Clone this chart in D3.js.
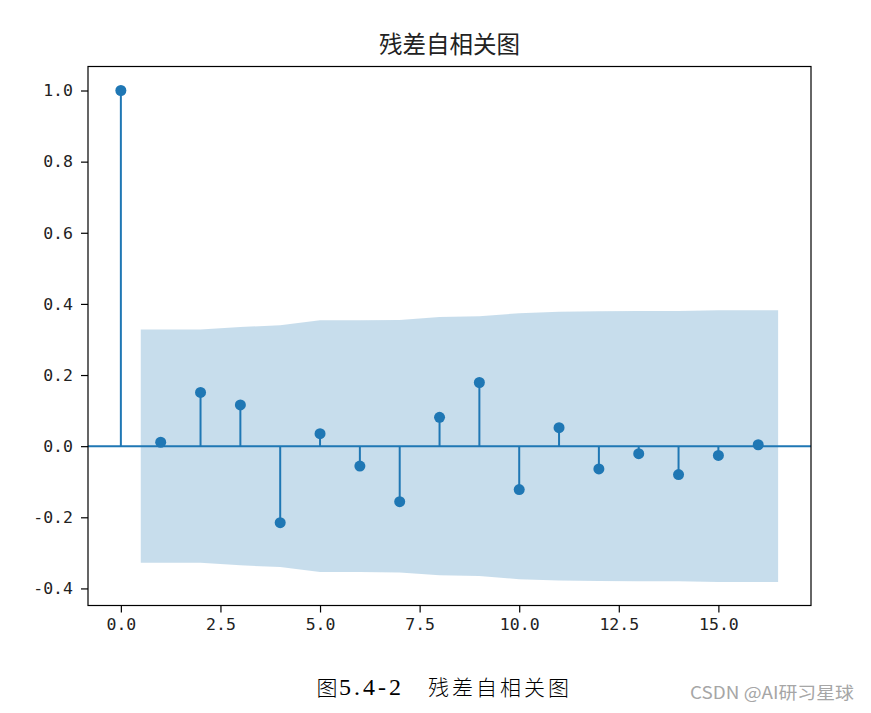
<!DOCTYPE html>
<html><head><meta charset="utf-8">
<script src="https://cdn.jsdelivr.net/npm/d3@7"></script>
<style>body{margin:0;background:#fff;}svg{display:block;}</style>
</head><body>
<svg id="chart" width="871" height="713"></svg>
<script>
// ---- data ----
const lags = [0,1,2,3,4,5,6,7,8,9,10,11,12,13,14,15,16];
const acfValues = [1.0,0.011,0.151,0.116,-0.215,0.035,-0.056,-0.156,0.081,0.179,-0.122,0.052,-0.064,-0.021,-0.080,-0.026,0.004];
const bandX = [0.5,2,3,4,5,6,7,8,9,10,11,12,13,14,15,16.5];
const bandHalfWidth = [0.328,0.328,0.335,0.340,0.354,0.354,0.355,0.363,0.365,0.374,0.378,0.379,0.380,0.380,0.382,0.382];
const xTicks = [0,2.5,5,7.5,10,12.5,15];
const yTicks = [-0.4,-0.2,0.0,0.2,0.4,0.6,0.8,1.0];
const titleText = "残差自相关图";
const captionFig = "图";
const captionNum = "5.4-2";
const captionText = "残差自相关图";
const watermark = "CSDN @AI研习星球";

const color = "#1f77b4";
const svg = d3.select("#chart");
const L = 88, R = 811, T = 66.5, B = 605.5;
const x = d3.scaleLinear().domain([-0.825, 17.325]).range([L, R]);
const y = d3.scaleLinear().domain([-0.448, 1.0675]).range([B, T]);

// band
const bandData = bandX.map((v,i)=>({x:v, h:bandHalfWidth[i]}));
svg.append("path").datum(bandData)
  .attr("d", d3.area().x(d=>x(d.x)).y0(d=>y(-d.h)).y1(d=>y(d.h)))
  .attr("fill", color).attr("fill-opacity", 0.25);

// stems
const pts = lags.map((l,i)=>({l, v:acfValues[i]}));
svg.append("g").selectAll("line").data(pts).join("line")
  .attr("x1", d=>x(d.l)).attr("x2", d=>x(d.l))
  .attr("y1", y(0)).attr("y2", d=>y(d.v))
  .attr("stroke", color).attr("stroke-width", 2);

// zero line
svg.append("line").attr("x1", L).attr("x2", R).attr("y1", y(0)).attr("y2", y(0))
  .attr("stroke", color).attr("stroke-width", 2);

// markers
svg.append("g").selectAll("circle").data(pts).join("circle")
  .attr("cx", d=>x(d.l)).attr("cy", d=>y(d.v)).attr("r", 5.5).attr("fill", color);

// axes
const tickFont = "'DejaVu Sans Mono', monospace";
const xAxis = svg.append("g").attr("transform", `translate(0,${B})`)
  .call(d3.axisBottom(x).tickValues(xTicks).tickFormat(d3.format(".1f")).tickSize(7).tickPadding(6));
const yAxis = svg.append("g").attr("transform", `translate(${L},0)`)
  .call(d3.axisLeft(y).tickValues(yTicks).tickFormat(d=>d3.format(".1f")(d).replace("−","-")).tickSize(7).tickPadding(8));
[xAxis,yAxis].forEach(a=>{
  a.select(".domain").remove();
  a.selectAll(".tick line").attr("stroke","#000").attr("stroke-width",1.2);
  a.selectAll(".tick text").attr("font-family", tickFont).attr("font-size", 16.5).attr("fill","#222");
});

// frame
svg.append("rect").attr("x", L).attr("y", T).attr("width", R-L).attr("height", B-T)
  .attr("fill","none").attr("stroke","#000").attr("stroke-width",1.2);

// title
svg.append("text").attr("x", (L+R)/2).attr("y", 52.5).attr("text-anchor","middle")
  .attr("font-family","'Noto Sans CJK SC', sans-serif").attr("font-size",23.5).attr("fill","#222")
  .text(titleText);

// caption
const cap = svg.append("g").attr("font-family","'Liberation Serif', 'Noto Sans CJK SC', serif").attr("fill","#000");
cap.append("text").attr("x",316.5).attr("y",695).attr("font-size",21)
  .attr("font-family","'Noto Sans CJK SC', sans-serif").attr("font-weight",300).text(captionFig);
cap.append("text").attr("x",339).attr("y",695).attr("font-size",24)
  .attr("textLength",62).attr("lengthAdjust","spacing").text(captionNum);
cap.append("text").attr("x",428).attr("y",695).attr("font-size",21)
  .attr("font-family","'Noto Sans CJK SC', sans-serif").attr("font-weight",300)
  .attr("textLength",141).attr("lengthAdjust","spacing").text(captionText);

// watermark
svg.append("text").attr("x",690).attr("y",699).attr("font-size",17)
  .attr("font-family","'Noto Sans CJK SC', sans-serif").attr("fill","#a6a6a6")
  .attr("textLength",164).attr("lengthAdjust","spacingAndGlyphs").text(watermark);
</script>
</body></html>
